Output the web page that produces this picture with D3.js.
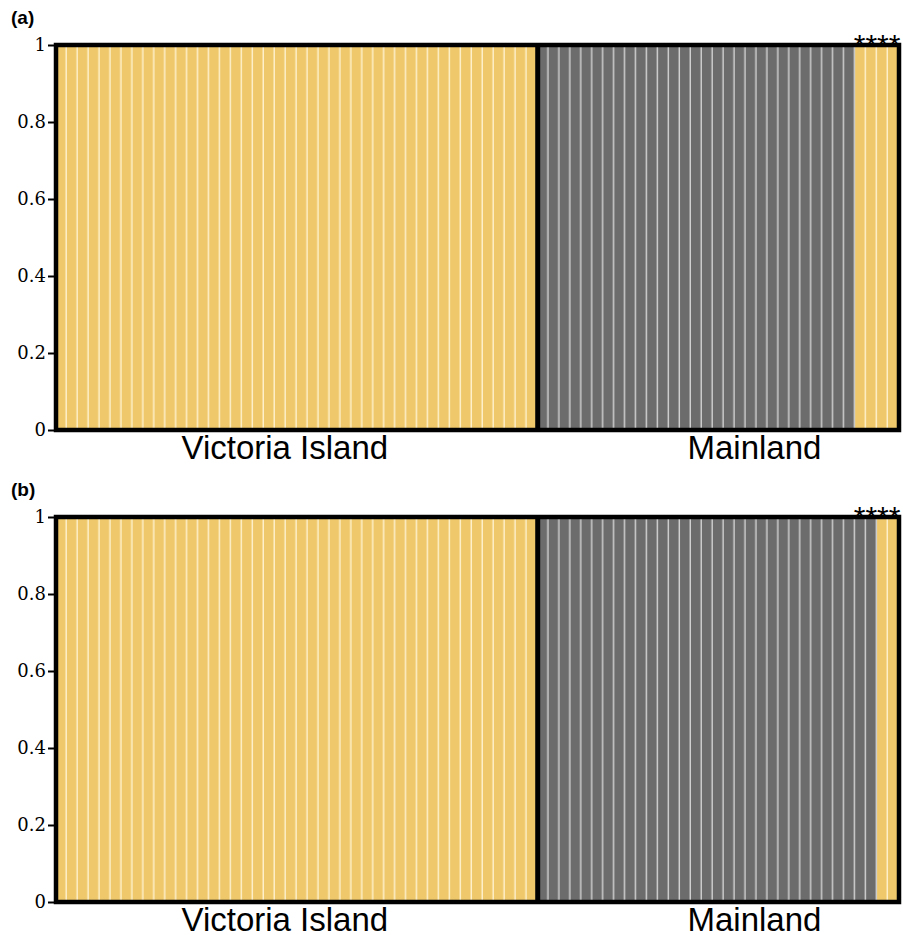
<html>
<head>
<style>
body { margin: 0; background: #fff; }
.tick text { font-family: "DejaVu Serif", "Liberation Serif", serif; font-size: 18px; fill: #000; }
.panel-label { font-family: "Liberation Sans", Arial, sans-serif; font-weight: bold; font-size: 19px; }
.group-label { font-family: "Liberation Sans", Arial, sans-serif; font-size: 33px; }
.stars { font-family: "Liberation Sans", Arial, sans-serif; font-size: 30px; }
</style>
<script src="https://d3js.org/d3.v7.min.js"></script>
</head>
<body>
<script>
// number of individuals per region
var groups = ["Victoria Island", "Mainland"];
var groupSizes = [44, 33];
var labelCentre = [20.9, 63.8]; // in individual units

// proportion of cluster 1 (yellow) for each individual, panel a and b
var qA = [].concat(
  d3.range(44).map(function() { return 1; }),
  d3.range(29).map(function() { return 0; }),
  [1, 1, 1, 1]
);
var qB = [].concat(
  d3.range(44).map(function() { return 1; }),
  d3.range(31).map(function() { return 0; }),
  [1, 1]
);
var starred = [73, 74, 75, 76]; // individuals marked ****
var yTicks = [0, 0.2, 0.4, 0.6, 0.8, 1];

var panels = [
  { name: "(a)", q: qA, top: 45 },
  { name: "(b)", q: qB, top: 517 }
];

var width = 903, height = 935;
var left = 56, right = 899, ph = 385;
var yellow = "#eec86b", yellowLight = "#f8dc98", yellowCore = "#fdf0cc";
var grey = "#6c6c6c", greyLight = "#9a9a9a", greyCore = "#d2d2d2";

var svg = d3.select("body").append("svg")
  .attr("width", width)
  .attr("height", height);

var n = qA.length;
var x = d3.scaleBand().domain(d3.range(n)).range([left, right]).padding(0);
var xu = d3.scaleLinear().domain([0, n]).range([left, right]);

panels.forEach(function(p) {
  var g = svg.append("g");
  var y = d3.scaleLinear().domain([0, 1]).range([p.top + ph, p.top]);

  // bars
  var bars = g.selectAll("g.ind").data(p.q).enter().append("g").attr("class", "ind");
  bars.append("rect")
    .attr("x", function(d, i) { return x(i); })
    .attr("width", x.bandwidth() + 0.5)
    .attr("y", function(d) { return y(d); })
    .attr("height", function(d) { return y(0) - y(d); })
    .attr("fill", yellow);
  bars.append("rect")
    .attr("x", function(d, i) { return x(i); })
    .attr("width", x.bandwidth() + 0.5)
    .attr("y", y(1))
    .attr("height", function(d) { return y(d) - y(1); })
    .attr("fill", grey);
  // light separators between individuals
  bars.append("rect")
    .attr("x", function(d, i) { return x(i) + x.bandwidth() - 2; })
    .attr("width", 4)
    .attr("y", y(1))
    .attr("height", y(0) - y(1))
    .attr("fill", function(d) { return d > 0.5 ? yellowLight : greyLight; });
  bars.append("rect")
    .attr("x", function(d, i) { return x(i) + x.bandwidth() - 1; })
    .attr("width", 2)
    .attr("y", y(1))
    .attr("height", y(0) - y(1))
    .attr("fill", function(d) { return d > 0.5 ? yellowCore : greyCore; });

  // separator between regions
  g.append("line")
    .attr("x1", xu(groupSizes[0])).attr("x2", xu(groupSizes[0]))
    .attr("y1", y(1)).attr("y2", y(0))
    .attr("stroke", "#000").attr("stroke-width", 5);

  // frame
  g.append("rect")
    .attr("x", left).attr("y", p.top)
    .attr("width", right - left).attr("height", ph)
    .attr("fill", "none").attr("stroke", "#000").attr("stroke-width", 4.5);

  // y axis
  var ax = g.append("g")
    .attr("transform", "translate(" + (left - 2) + ",0)")
    .call(d3.axisLeft(y).tickValues(yTicks).tickFormat(d3.format("")).tickSize(6).tickPadding(2));
  ax.select(".domain").remove();
  ax.selectAll(".tick line").attr("stroke", "#000").attr("stroke-width", 2);

  // panel label
  g.append("text").attr("class", "panel-label")
    .attr("x", 11).attr("y", p.top - 21)
    .text(p.name);

  // group labels
  groups.forEach(function(name, k) {
    g.append("text").attr("class", "group-label")
      .attr("x", xu(labelCentre[k]))
      .attr("y", p.top + ph + 29)
      .attr("text-anchor", "middle")
      .text(name);
  });

  // asterisks
  g.append("text").attr("class", "stars")
    .attr("x", xu(d3.mean(starred) + 0.5))
    .attr("y", p.top + 10)
    .attr("text-anchor", "middle")
    .text(starred.map(function() { return "*"; }).join(""));
});
</script>
</body>
</html>
